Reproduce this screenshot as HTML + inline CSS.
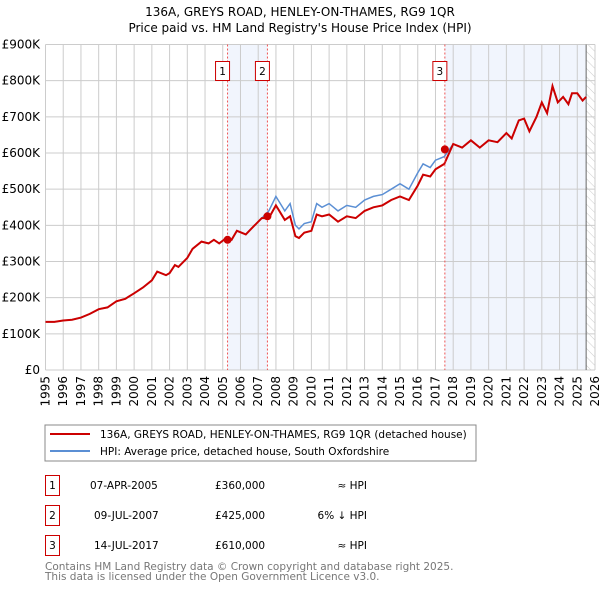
<!DOCTYPE html>
<html><head><meta charset="utf-8"><style>
body{margin:0;background:#fff;font-family:"DejaVu Sans","Liberation Sans",sans-serif;}
svg text{font-family:"DejaVu Sans","Liberation Sans",sans-serif;}
</style></head><body>
<svg id="c" width="600" height="590" xmlns="http://www.w3.org/2000/svg">
<defs><pattern id="hatch" width="6" height="6" patternUnits="userSpaceOnUse" patternTransform="rotate(-45)"><line x1="0" y1="0" x2="0" y2="6" stroke="#ccc" stroke-width="1"/></pattern></defs>
<text x="300" y="16" text-anchor="middle" font-size="12">136A, GREYS ROAD, HENLEY-ON-THAMES, RG9 1QR</text>
<text x="300" y="32" text-anchor="middle" font-size="12">Price paid vs. HM Land Registry's House Price Index (HPI)</text>
<g id="plot"></g>
<rect x="45" y="425" width="431" height="36" fill="#fff" stroke="#888"/>
<line x1="50" y1="434" x2="90" y2="434" stroke="#cc0000" stroke-width="2"/>
<text x="100" y="438" font-size="10.5">136A, GREYS ROAD, HENLEY-ON-THAMES, RG9 1QR (detached house)</text>
<line x1="50" y1="451" x2="90" y2="451" stroke="#5b8fd4" stroke-width="2"/>
<text x="100" y="455" font-size="10.5">HPI: Average price, detached house, South Oxfordshire</text>
<g font-size="10.5">
<rect x="45.5" y="475.5" width="14" height="20" fill="none" stroke="#cc0000"/><text x="52.5" y="489" text-anchor="middle">1</text>
<text x="90" y="489">07-APR-2005</text><text x="215" y="489">£360,000</text><text x="367" y="489" text-anchor="end">≈ HPI</text>
<rect x="45.5" y="505.5" width="14" height="20" fill="none" stroke="#cc0000"/><text x="52.5" y="519" text-anchor="middle">2</text>
<text x="94" y="519">09-JUL-2007</text><text x="215" y="519">£425,000</text><text x="367" y="519" text-anchor="end">6% ↓ HPI</text>
<rect x="45.5" y="535.5" width="14" height="20" fill="none" stroke="#cc0000"/><text x="52.5" y="549" text-anchor="middle">3</text>
<text x="94" y="549">14-JUL-2017</text><text x="215" y="549">£610,000</text><text x="367" y="549" text-anchor="end">≈ HPI</text>
</g>
<text x="45" y="570" font-size="10.5" fill="#777">Contains HM Land Registry data © Crown copyright and database right 2025.</text>
<text x="45" y="580" font-size="10.5" fill="#777">This data is licensed under the Open Government Licence v3.0.</text>
</svg>
<script>
const hpiYears=[1995,1995.5,1996,1996.5,1997,1997.5,1998,1998.5,1999,1999.5,2000,2000.5,2001,2001.3,2001.8,2002,2002.3,2002.5,2003,2003.3,2003.8,2004.2,2004.5,2004.8,2005.2,2005.5,2005.8,2006.3,2006.7,2007.2,2007.6,2008,2008.5,2008.8,2009.1,2009.3,2009.6,2010,2010.3,2010.6,2011,2011.5,2012,2012.5,2013,2013.5,2014,2014.5,2015,2015.5,2016,2016.3,2016.7,2017,2017.5,2018,2018.5,2019,2019.5,2020,2020.5,2021,2021.3,2021.7,2022,2022.3,2022.7,2023,2023.3,2023.6,2023.9,2024.2,2024.5,2024.7,2025,2025.3,2025.5];
const hpiValues=[133,133,137,139,145,155,168,173,190,197,212,228,248,272,262,268,290,285,310,335,355,350,360,350,365,360,385,375,395,420,440,480,440,460,400,390,405,410,460,450,460,440,455,450,470,480,485,500,515,500,545,570,560,580,590,625,615,635,615,635,630,655,640,690,695,660,700,740,710,785,740,755,735,765,765,745,755];
const priceValues=[133,133,137,139,145,155,168,173,190,197,212,228,248,272,262,268,290,285,310,335,355,350,360,350,365,360,385,375,395,420,420,455,415,425,370,365,380,385,430,425,430,410,425,420,440,450,455,470,480,470,510,540,535,555,570,625,615,635,615,635,630,655,640,690,695,660,700,740,710,785,740,755,735,765,765,745,755];
const saleYears=[2005.27,2007.52,2017.53];
const salePrices=[360,425,610];
const yTicks=[0,100,200,300,400,500,600,700,800,900];
const yTickLabels=["£0","£100K","£200K","£300K","£400K","£500K","£600K","£700K","£800K","£900K"];
const xTicks=[1995,1996,1997,1998,1999,2000,2001,2002,2003,2004,2005,2006,2007,2008,2009,2010,2011,2012,2013,2014,2015,2016,2017,2018,2019,2020,2021,2022,2023,2024,2025,2026];

const X0=45.5,X1=595,Y0=370,Y1=44.5;
const xs=y=>X0+(y-1995)/(2026-1995)*(X1-X0);
const ys=v=>Y0-v/900*(Y0-Y1);
const NS="http://www.w3.org/2000/svg";
const g=document.getElementById('plot');
function mk(t,a){const e=document.createElementNS(NS,t);for(const k in a)e.setAttribute(k,a[k]);g.appendChild(e);return e;}

let e=mk('rect',{x:xs(saleYears[0]),y:Y1,width:xs(saleYears[1])-xs(saleYears[0]),height:Y0-Y1,fill:'#eef3fc',opacity:0.8});


e=mk('rect',{x:xs(saleYears[2]),y:Y1,width:xs(2025.5)-xs(saleYears[2]),height:Y0-Y1,fill:'#eef3fc',opacity:0.8});


e=mk('rect',{x:xs(2025.5),y:Y1,width:X1-xs(2025.5),height:Y0-Y1,fill:'url(#hatch)'});



xTicks.forEach(t=>{
 let l=mk('line',{x1:xs(t),x2:xs(t),y1:Y1,y2:Y0,stroke:'#ccc','stroke-width':1});
 
 
 let tx=mk('text',{x:0,y:0,'font-size':12,'text-anchor':'end',transform:`translate(${xs(t)+4},${Y0+6}) rotate(-90)`});
 tx.textContent=t;
 
 
});
yTicks.forEach((t,i)=>{
 let l=mk('line',{x1:X0,x2:X1,y1:ys(t),y2:ys(t),stroke:'#ccc','stroke-width':1});
 
 
 let tx=mk('text',{x:40,y:ys(t)+4,'font-size':12,'text-anchor':'end'});
 tx.textContent=yTickLabels[i];
 
 
});
e=mk('line',{x1:xs(2025.5),x2:xs(2025.5),y1:Y1,y2:Y0,stroke:'#666'});



const pts=vals=>vals.map((v,i)=>xs(hpiYears[i]).toFixed(1)+','+ys(v).toFixed(1)).join(' ');
e=mk('polyline',{points:pts(hpiValues),fill:'none',stroke:'#5b8fd4','stroke-width':1.5});


e=mk('polyline',{points:pts(priceValues),fill:'none',stroke:'#cc0000','stroke-width':2});



saleYears.forEach((y,i)=>{
 let l=mk('line',{x1:xs(y),x2:xs(y),y1:Y1,y2:Y0,stroke:'#e55','stroke-dasharray':'2,2','stroke-width':1});
 
 
 let r=mk('rect',{x:xs(y)-7-5,y:61.5,width:14,height:19,fill:'#fff',stroke:'#cc0000'});
 
 
 let t=mk('text',{x:xs(y)-5,y:75,'font-size':10.5,'text-anchor':'middle'});
 t.textContent=i+1;
 
 
 let c=mk('circle',{cx:xs(y),cy:ys(salePrices[i]),r:4,fill:'#cc0000'});
 
 
});
</script>
</body></html>
